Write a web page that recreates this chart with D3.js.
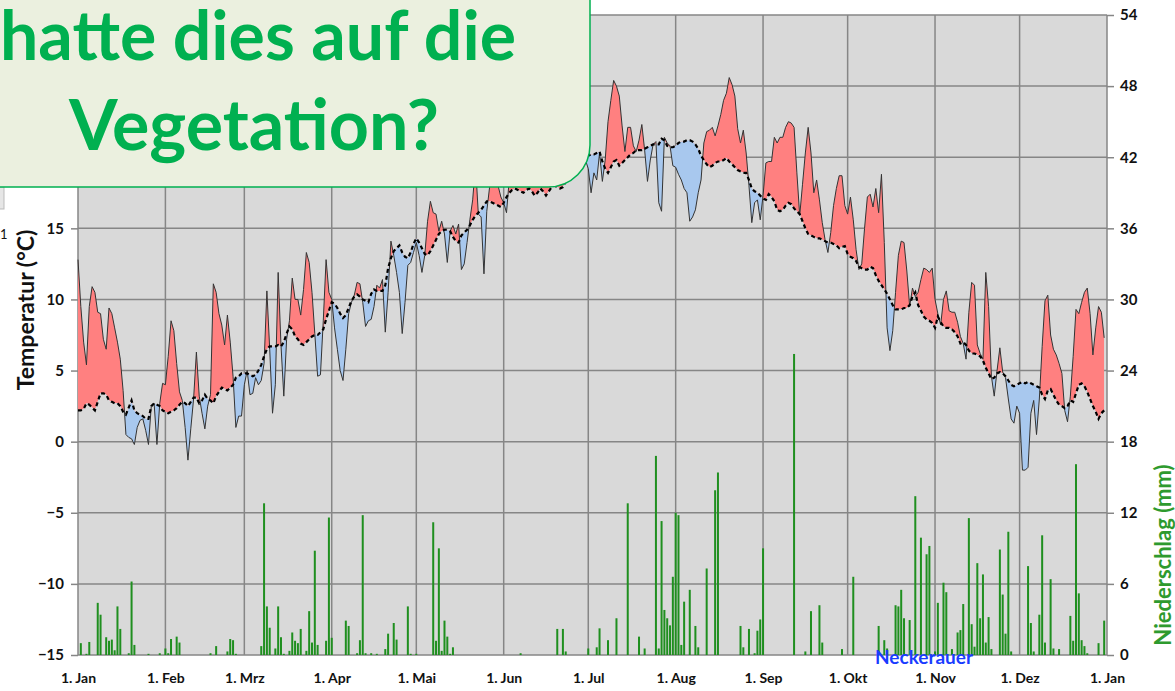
<!DOCTYPE html>
<html>
<head>
<meta charset="utf-8">
<script src="https://cdn.jsdelivr.net/npm/d3@7"></script>
<style>
  body { margin: 0; background: #fff; }
  svg text { font-family: Lato, "Open Sans", sans-serif; }
</style>
</head>
<body>
<div id="chart"></div>
<script>
// daily mean temperature (°C), 1 Jan .. 31 Dec
var tempDaily = [
  // Jan
  12.8, 9.5, 7.0, 5.4, 9.5, 10.9, 10.5, 9.1, 9.0, 7.2, 6.5, 9.4, 9.0, 8.0, 7.0, 5.8, 3.6, 0.5, 0.3, 0.2, -0.2, 1.0, 1.5, 1.6, 0.8, -0.2, 2.5, 2.7, -0.2, 2.7, 4.1,
  // Feb
  4.0, 6.0, 8.5, 7.8, 5.5, 3.5, 2.9, 1.0, -1.3, 0.9, 3.0, 6.3, 3.2, 2.0, 0.9, 2.5, 3.3, 11.1, 10.5, 9.0, 8.2, 6.8, 8.9, 7.0, 4.6, 1.0, 1.8, 1.8,
  // Mrz
  4.0, 5.0, 3.3, 3.4, 4.5, 4.0, 4.3, 5.5, 10.6, 6.5, 2.0, 4.0, 11.9, 6.8, 3.2, 7.2, 8.5, 11.5, 10.0, 10.0, 8.9, 10.7, 13.3, 12.6, 10.5, 7.6, 4.6, 4.7, 8.5, 12.8, 10.5,
  // Apr
  10.0, 8.0, 6.5, 5.0, 4.3, 6.5, 9.0, 9.8, 10.3, 11.2, 11.1, 9.8, 8.1, 8.5, 8.6, 9.5, 11.0, 10.8, 11.4, 7.7, 10.5, 14.1, 13.1, 11.9, 10.5, 7.6, 9.8, 12.4, 12.6, 13.3,
  // Mai
  14.0, 13.1, 11.9, 13.1, 15.5, 16.9, 16.1, 16.0, 14.8, 15.5, 14.6, 12.6, 14.8, 15.2, 14.6, 15.3, 12.1, 12.5, 14.0, 15.6, 17.0, 19.5, 16.0, 15.8, 11.8, 16.2, 17.9, 19.0, 19.5, 18.0, 17.2,
  // Jun
  16.8, 16.1, 18.5, 20.5, 21.5, 20.0, 19.0, 18.5, 19.5, 18.8, 18.0, 18.6, 19.8, 18.2, 18.6, 19.5, 20.5, 21.0, 19.5, 18.7, 19.2, 20.2, 21.0, 20.5, 19.5, 20.5, 21.0, 20.8, 21.0, 19.8,
  // Jul
  19.2, 17.5, 18.9, 18.4, 20.3, 18.3, 19.8, 22.5, 24.0, 25.4, 25.0, 24.3, 22.2, 20.4, 22.1, 22.1, 20.8, 20.4, 21.2, 22.3, 20.5, 18.3, 19.8, 20.9, 21.1, 16.8, 16.2, 21.4, 21.0, 20.8, 19.4,
  // Aug
  19.3, 18.8, 18.4, 17.8, 17.5, 15.5, 15.8, 16.3, 17.5, 18.4, 21.0, 21.8, 21.9, 22.1, 21.5, 22.2, 23.0, 24.0, 24.5, 25.6, 25.1, 24.3, 22.0, 21.0, 21.9, 20.3, 18.0, 15.4, 16.8, 17.0, 15.6,
  // Sep
  17.3, 19.6, 19.7, 19.7, 21.4, 21.0, 21.4, 21.4, 22.1, 22.5, 22.4, 22.1, 18.9, 15.9, 18.1, 20.3, 22.1, 20.3, 17.5, 18.4, 17.0, 15.4, 14.2, 13.3, 14.7, 16.6, 17.8, 18.7, 18.7, 16.6,
  // Okt
  16.0, 17.2, 15.6, 13.5, 12.1, 12.5, 15.0, 17.2, 17.4, 16.5, 17.8, 16.1, 18.8, 14.0, 8.0, 6.4, 7.8, 10.5, 13.1, 14.1, 14.0, 12.0, 9.5, 10.8, 10.2, 10.5, 11.4, 12.2, 12.1, 11.9, 12.2,
  // Nov
  10.0, 9.0, 8.2, 10.0, 10.6, 9.2, 9.1, 9.1, 8.4, 7.4, 6.9, 5.8, 9.1, 11.2, 11.0, 6.8, 6.2, 5.8, 11.9, 9.5, 4.6, 3.2, 5.0, 6.6, 4.9, 4.5, 3.0, 1.6, 1.3, 2.5,
  // Dez
  2.0, -2.0, -2.0, -1.8, 2.0, 2.9, 0.5, 3.0, 6.7, 9.9, 10.3, 7.5, 6.5, 6.1, 5.5, 4.8, 2.2, 1.4, 3.2, 6.0, 9.3, 9.0, 9.8, 10.5, 10.8, 9.0, 6.1, 8.0, 9.5, 9.1, 7.3
];

// long-term mean (dashed line)
var normalDaily = [
  2.2, 2.2, 2.3, 2.7, 2.6, 2.4, 2.2, 2.8, 3.4, 3.4, 3.3, 2.9, 2.8, 2.7, 2.7, 2.5, 2.1, 1.9, 2.4, 2.9, 2.2, 2.0, 1.9, 1.8, 1.6, 1.6, 2.5, 2.7, 2.6, 2.5, 2.2,
  2.1, 2.0, 2.1, 2.2, 2.35, 2.6, 2.8, 2.7, 2.5, 2.8, 3.1, 3.1, 2.7, 2.9, 3.3, 3.0, 2.9, 2.7, 3.2, 3.5, 3.8, 3.7, 3.6, 3.8, 4.0, 4.5, 4.6, 4.8,
  4.8, 4.8, 4.7, 4.6, 4.7, 5.0, 5.4, 6.0, 6.5, 6.7, 6.7, 6.7, 6.8, 6.7, 7.0, 7.6, 8.1, 7.9, 7.4, 7.2, 6.9, 6.8, 7.0, 7.2, 7.4, 7.5, 7.5, 7.7, 7.9, 8.6, 9.2,
  9.8, 9.7, 9.4, 9.0, 8.7, 8.9, 9.4, 9.9, 10.2, 10.35, 10.2, 10.0, 9.9, 9.8, 10.4, 10.7, 10.6, 10.6, 10.6, 11.0, 12.2, 12.9, 13.4, 13.6, 13.8, 13.3, 13.0, 12.9, 13.3, 13.9,
  14.3, 14.0, 13.6, 13.2, 13.1, 13.4, 13.8, 14.2, 14.6, 14.8, 14.9, 14.9, 14.8, 14.4, 14.1, 14.0, 14.5, 14.7, 14.9, 15.2, 15.6, 15.9, 16.1, 16.3, 16.6, 16.9, 16.9, 16.8, 16.7, 16.6, 16.5,
  16.8, 17.2, 17.5, 17.7, 17.8, 17.7, 17.6, 17.5, 17.7, 17.8, 17.6, 17.3, 17.5, 17.8, 17.6, 17.3, 17.6, 17.9, 18.0, 17.9, 17.8, 17.9, 18.3, 18.7, 19.2, 19.7, 20.0, 20.2, 20.3, 20.2,
  20.1, 20.2, 20.2, 20.3, 20.4, 19.7, 19.2, 18.9, 19.3, 19.7, 19.8, 19.4, 19.6, 19.8, 20.0, 20.2, 20.3, 20.5, 20.5, 20.5, 20.6, 20.7, 20.8, 20.9, 20.9, 20.9, 21.3, 21.2, 20.8, 20.7, 20.7,
  20.8, 21.0, 21.1, 21.1, 21.2, 21.2, 21.1, 20.9, 20.6, 20.1, 19.8, 19.5, 19.3, 19.4, 19.6, 19.7, 19.7, 19.8, 19.95, 19.7, 19.5, 19.3, 19.1, 19.0, 18.9, 18.9, 18.4, 17.8, 17.6, 17.5, 17.3,
  17.1, 17.0, 17.4, 17.2, 16.9, 16.3, 16.2, 16.3, 16.6, 16.8, 16.7, 16.4, 16.2, 16.0, 15.5, 15.0, 14.6, 14.5, 14.4, 14.3, 14.3, 14.2, 14.1, 14.0, 14.0, 13.9, 13.8, 13.6, 13.7, 13.75,
  13.2, 13.0, 12.9, 12.7, 12.3, 12.2, 12.1, 12.1, 12.3, 12.2, 11.7, 11.3, 11.0, 10.7, 10.4, 10.0, 9.6, 9.3, 9.3, 9.3, 9.4, 9.4, 9.6, 10.2, 10.5, 9.6, 9.2, 8.8, 8.6, 8.5, 8.35,
  8.0, 8.8, 8.4, 8.1, 8.0, 8.0, 7.9, 7.7, 7.4, 6.9, 7.0, 6.8, 6.4, 6.2, 6.2, 6.1, 6.0, 5.7, 5.2, 4.8, 4.4, 4.5, 4.8, 4.9, 4.8, 4.6, 4.3, 4.0, 3.9, 4.0,
  4.1, 4.2, 4.1, 4.2, 4.1, 4.0, 3.9, 3.8, 3.3, 3.0, 3.6, 3.7, 3.3, 2.9, 2.6, 2.5, 2.35, 2.5, 2.9, 2.8, 3.4, 4.0, 4.1, 3.9, 3.5, 3.0, 2.5, 2.1, 1.6, 2.0, 2.2
];

// precipitation: day of year (0 = 1. Jan) and amount in mm
var rainDay = [1, 3, 4, 7, 8, 10, 11, 12, 13, 14, 15, 18, 19, 20, 25, 29, 31, 32, 33, 35, 36, 47, 49, 53, 54, 55, 56,
  65, 66, 67, 68, 70, 71, 72, 73, 75, 76, 77, 78, 79, 81, 82, 83, 84, 85, 88, 89, 90, 95, 96, 99, 100, 101, 102, 104, 106,
  109, 110, 112, 113, 117, 118, 120, 126, 127, 128, 129, 130, 131, 132, 133, 157, 170, 172, 173, 181, 184, 185, 188, 191,
  195, 199, 201, 205, 206, 207, 208, 209, 210, 211, 212, 213, 214, 215, 217, 219, 220, 223, 226, 227, 235, 236, 238, 240,
  241, 242, 243, 254, 258, 260, 263, 264, 271, 275, 284, 286, 287, 290, 291, 292, 293, 295, 297, 299, 301, 302, 304, 305,
  307, 308, 310, 312, 313, 314, 316, 317, 318, 319, 320, 321, 322, 323, 324, 327, 328, 329, 330, 331, 337, 338, 339, 341,
  342, 343, 345, 346, 348, 352, 353, 354, 355, 356, 357, 358, 362, 364];
var rainMm = [1.0, 0.1, 1.1, 4.4, 3.4, 1.5, 1.2, 1.3, 0.4, 4.1, 2.2, 0.15, 6.2, 0.85, 0.1, 0.15, 0.55, 0.15, 1.35, 1.55, 1.05, 0.15, 0.75, 0.3, 1.35, 1.25, 0.1,
  0.75, 12.8, 4.1, 2.3, 0.55, 4.1, 1.5, 0.1, 0.35, 1.9, 1.2, 1.0, 2.2, 0.35, 3.7, 1.05, 8.8, 0.85, 1.2, 11.6, 1.45, 2.9, 2.45, 0.15, 1.25, 11.8, 0.15, 0.15, 0.1,
  0.5, 1.8, 2.7, 1.3, 4.1, 0.1, 0.1, 11.2, 1.2, 9.0, 0.35, 2.9, 1.55, 0.1, 0.65, 0.15, 2.2, 2.2, 0.3, 0.55, 0.65, 2.25, 1.25, 3.1,
  12.8, 1.55, 0.55, 16.8, 0.55, 11.3, 3.8, 3.1, 2.5, 6.6, 12.0, 11.8, 0.85, 4.5, 5.5, 2.45, 0.65, 7.3, 13.9, 15.4, 2.45, 0.65, 2.2, 0.15,
  2.05, 3.0, 9.0, 25.4, 0.3, 3.7, 4.2, 1.05, 0.5, 6.6, 2.45, 1.25, 0.55, 4.2, 4.1, 5.5, 3.1, 2.95, 13.4, 9.9, 8.5, 9.2, 0.3, 4.4,
  6.1, 5.3, 0.5, 1.9, 2.1, 4.3, 11.55, 2.6, 0.7, 7.75, 3.1, 6.8, 1.05, 3.2, 0.5, 8.9, 5.1, 1.8, 10.4, 0.3, 7.5, 2.7, 0.3, 3.4,
  10.1, 1.05, 6.4, 0.55, 0.5, 3.3, 1.2, 16.1, 5.2, 1.25, 0.75, 0.15, 1.0, 2.9];

var monthStart = [0, 31, 59, 90, 120, 151, 181, 212, 243, 273, 304, 334, 365];
var monthLabels = ["1. Jan", "1. Feb", "1. Mrz", "1. Apr", "1. Mai", "1. Jun", "1. Jul", "1. Aug", "1. Sep", "1. Okt", "1. Nov", "1. Dez", "1. Jan"];
var tempTicks = [-15, -10, -5, 0, 5, 10, 15, 20, 25, 30];
var rainTicks = [0, 6, 12, 18, 24, 30, 36, 42, 48, 54];

var svgWidth = 1175;
var svgHeight = 691;
var margin = { top: 15, right: 68, bottom: 36, left: 78 };
var width = 1107 - margin.left;
var height = 655 - margin.top;

var svg = d3.select("#chart")
  .append("svg")
  .attr("width", svgWidth)
  .attr("height", svgHeight);

var chartGroup = svg.append("g")
  .attr("transform", `translate(${margin.left}, ${margin.top})`);

// scales
var xScale = d3.scaleLinear().domain([0, 365]).range([0, width]);
var yTemp = d3.scaleLinear().domain([-15, 30]).range([height, 0]);
var yRain = d3.scaleLinear().domain([0, 54]).range([height, 0]);

// plot background
chartGroup.append("rect")
  .attr("width", width)
  .attr("height", height)
  .attr("fill", "#d9d9d9");

// gridlines
chartGroup.append("g")
  .selectAll("line")
  .data(tempTicks)
  .enter()
  .append("line")
  .attr("x1", 0)
  .attr("x2", width)
  .attr("y1", d => yTemp(d))
  .attr("y2", d => yTemp(d))
  .attr("stroke", "#868686")
  .attr("stroke-width", 1.5);

chartGroup.append("g")
  .selectAll("line")
  .data(monthStart)
  .enter()
  .append("line")
  .attr("x1", d => xScale(d))
  .attr("x2", d => xScale(d))
  .attr("y1", 0)
  .attr("y2", height)
  .attr("stroke", "#868686")
  .attr("stroke-width", 1.5);

// precipitation bars
chartGroup.append("g")
  .selectAll("rect")
  .data(rainDay)
  .enter()
  .append("rect")
  .attr("x", d => xScale(d) - 1)
  .attr("width", 2)
  .attr("y", (d, i) => yRain(rainMm[i]))
  .attr("height", (d, i) => height - yRain(rainMm[i]))
  .attr("fill", "#1f8f1f");

// red / blue fill between daily temp and long-term mean
var days = d3.range(tempDaily.length);

var defs = svg.append("defs");
defs.append("clipPath").attr("id", "clipAbove")
  .append("path")
  .attr("d", d3.area().x(d => xScale(d)).y0(0).y1(d => yTemp(normalDaily[d]))(days));
defs.append("clipPath").attr("id", "clipBelow")
  .append("path")
  .attr("d", d3.area().x(d => xScale(d)).y0(height).y1(d => yTemp(normalDaily[d]))(days));

var between = d3.area()
  .x(d => xScale(d))
  .y0(d => yTemp(normalDaily[d]))
  .y1(d => yTemp(tempDaily[d]));

chartGroup.append("path")
  .datum(days)
  .attr("d", between)
  .attr("fill", "#ff8080")
  .attr("clip-path", "url(#clipAbove)");

chartGroup.append("path")
  .datum(days)
  .attr("d", between)
  .attr("fill", "#a8c8ee")
  .attr("clip-path", "url(#clipBelow)");

chartGroup.append("path")
  .datum(days)
  .attr("d", d3.line().x(d => xScale(d)).y(d => yTemp(tempDaily[d])))
  .attr("fill", "none")
  .attr("stroke", "#333")
  .attr("stroke-width", 1);

chartGroup.append("path")
  .datum(days)
  .attr("d", d3.line().x(d => xScale(d)).y(d => yTemp(normalDaily[d])))
  .attr("fill", "none")
  .attr("stroke", "#000")
  .attr("stroke-width", 2.2)
  .attr("stroke-dasharray", "4,3");

// axes
var leftAxis = d3.axisLeft(yTemp).tickValues(tempTicks).tickSize(7).tickPadding(7);
var rightAxis = d3.axisRight(yRain).tickValues(rainTicks).tickSize(7).tickPadding(6);
var bottomAxis = d3.axisBottom(xScale).tickValues(monthStart).tickSize(0).tickPadding(18)
  .tickFormat((d, i) => monthLabels[i]);

function styleAxis(g, size) {
  g.select(".domain").remove();
  g.selectAll("line").attr("stroke", "#868686").attr("stroke-width", 1.5);
  g.selectAll("text")
    .attr("fill", "#111")
    .style("font-size", size + "px")
    .style("font-weight", "bold")
    .style("font-family", "Lato, sans-serif");
}

chartGroup.append("g").call(leftAxis).call(styleAxis, 15);
chartGroup.append("g").attr("transform", `translate(${width}, 0)`).call(rightAxis).call(styleAxis, 15);
chartGroup.append("g").attr("transform", `translate(0, ${height})`).call(bottomAxis).call(styleAxis, 14);

// axis titles
svg.append("text")
  .attr("transform", "translate(34, 310) rotate(-90)")
  .attr("text-anchor", "middle")
  .attr("font-size", 23)
  .attr("font-weight", "bold")
  .attr("fill", "#111")
  .text("Temperatur (°C)");

svg.append("text")
  .attr("transform", "translate(1171, 555) rotate(-90)")
  .attr("text-anchor", "middle")
  .attr("font-size", 22)
  .attr("font-weight", "bold")
  .attr("fill", "#2e9a2e")
  .text("Niederschlag (mm)");

svg.append("text")
  .attr("x", 924)
  .attr("y", 664)
  .attr("text-anchor", "middle")
  .attr("font-size", 19)
  .attr("font-weight", "bold")
  .attr("fill", "#1a3cff")
  .text("Neckerauer");

// leftovers of other slide elements
svg.append("rect")
  .attr("x", -2).attr("y", 187).attr("width", 6).attr("height", 22)
  .attr("fill", "#e6e6e6").attr("stroke", "#bbb");
svg.append("text")
  .attr("x", 0).attr("y", 239)
  .attr("font-size", 13)
  .attr("fill", "#111")
  .text("1");

// question box overlay
svg.append("rect")
  .attr("x", -60)
  .attr("y", -60)
  .attr("width", 650)
  .attr("height", 247)
  .attr("rx", 42)
  .attr("fill", "#ebf0df")
  .attr("stroke", "#00b050")
  .attr("stroke-width", 1.5);

svg.append("text")
  .attr("x", 258)
  .attr("y", 60)
  .attr("text-anchor", "middle")
  .attr("font-size", 68)
  .attr("font-weight", "bold")
  .attr("fill", "#00b050")
  .text("hatte dies auf die");

svg.append("text")
  .attr("x", 254)
  .attr("y", 150)
  .attr("text-anchor", "middle")
  .attr("font-size", 70)
  .attr("font-weight", "bold")
  .attr("fill", "#00b050")
  .text("Vegetation?");
</script>
</body>
</html>
